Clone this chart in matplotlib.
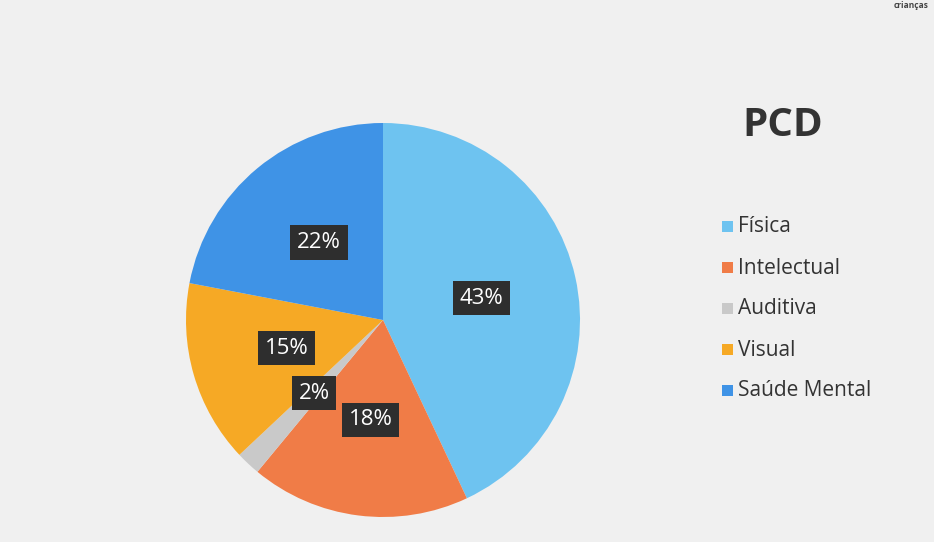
import matplotlib.pyplot as plt
import numpy as np

categories = ['Física', 'Intelectual', 'Auditiva', 'Visual', 'Saúde Mental']
values = [43, 18, 2, 15, 22]
colors = ['#6ec3f0', '#f07c47', '#c9c9c9', '#f6a925', '#3f93e6']

plt.rcParams['font.family'] = ['Open Sans', 'DejaVu Sans']

fig = plt.figure(figsize=(9.34, 5.42), dpi=100)
fig.patch.set_facecolor('#f0f0f0')

# pie area (center ~ (383,320), radius ~197 px)
ax = fig.add_axes([(383 - 200) / 934, 1 - (320 + 200) / 542, 400 / 934, 400 / 542])
wedges, texts = ax.pie(values, colors=colors, startangle=90, counterclock=False,
                       radius=0.985, labels=[f'{v}%' for v in values],
                       labeldistance=0.51, wedgeprops=dict(linewidth=0))
for t in texts:
    t.set_color('white')
    t.set_fontsize(16)
    t.set_ha('center')
    t.set_va('center')
    t.set_bbox(dict(boxstyle='square,pad=0.3', facecolor='#2e2e2e', edgecolor='none'))
ax.set_xlim(-1, 1)
ax.set_ylim(-1, 1)
ax.set_aspect('equal')
ax.axis('off')

# title
fig.text(783 / 934, 1 - 125 / 542, 'PCD', fontsize=29, fontweight='bold',
         color='#333333', ha='center', va='center')

# legend
ly = [227, 268, 309, 350, 391]
for name, c, y in zip(categories, colors, ly):
    fig.patches.append(plt.Rectangle((722 / 934, 1 - (y + 5) / 542), 11 / 934, 11 / 542,
                                     transform=fig.transFigure, facecolor=c, edgecolor='none'))
    fig.text(738 / 934, 1 - y / 542, name, fontsize=15, color='#333333',
             ha='left', va='center')

fig.text(928 / 934, 1 - 5 / 542, 'crianças', fontsize=6, color='#444444',
         ha='right', va='center', fontweight='bold')

fig.savefig('out.png', dpi=100, facecolor=fig.get_facecolor())
